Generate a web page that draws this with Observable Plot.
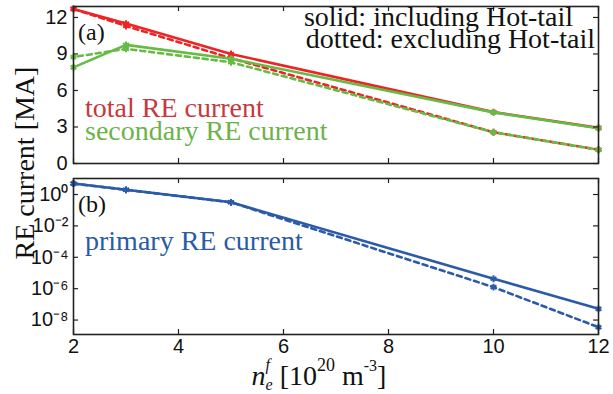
<!DOCTYPE html>
<html><head><meta charset="utf-8">
<script src="https://cdn.jsdelivr.net/npm/d3@7"></script>
<script src="https://cdn.jsdelivr.net/npm/@observablehq/plot@0.6"></script>
<style>
body{margin:0;background:#fff;}
#wrap{position:relative;width:613px;height:394px;font-family:"Liberation Serif",serif;}
#wrap svg{position:absolute;left:0;overflow:visible;}
.lab{position:absolute;color:#111;white-space:nowrap;line-height:1;font-size:28px;}
</style></head><body>
<div id="wrap"></div>
<script>
const density = [2, 3, 5, 10, 12];
const totalWith = [12.7, 11.5, 9.0, 4.22, 2.93];
const secondaryWith = [7.9, 9.75, 8.6, 4.2, 2.9];
const totalWithout = [12.7, 11.3, 8.65, 2.57, 1.13];
const secondaryWithout = [8.75, 9.42, 8.32, 2.57, 1.13];
const primaryWith = [5.0, 2.0, 0.32, 4.3e-6, 5.2e-8];
const primaryWithout = [5.0, 2.0, 0.32, 1.25e-6, 3.5e-9];
const xTicks = [2, 4, 6, 8, 10, 12];
const yTicksA = [0, 3, 6, 9, 12];
const yTicksB = [1, 1e-2, 1e-4, 1e-6, 1e-8];
const expLabels = {"0":"⁰","-2":"⁻²","-4":"⁻⁴","-6":"⁻⁶","-8":"⁻⁸"};

const RED = "#ee2424", GREEN = "#66bb44", BLUE = "#2a5aa8";
const SANS = "Liberation Sans";
const rows = (ys) => density.map((x, i) => ({x, y: ys[i]}));

function inwardTicks(innerW, innerH, xt, yt) {
  return [
    Plot.tickX(xt, {x: d => d, insetTop: innerH - 5, stroke: "#222", strokeWidth: 1.2}),
    Plot.tickX(xt, {x: d => d, insetBottom: innerH - 5, stroke: "#222", strokeWidth: 1.2}),
    Plot.tickY(yt, {y: d => d, insetRight: innerW - 5, stroke: "#222", strokeWidth: 1.2}),
    Plot.tickY(yt, {y: d => d, insetLeft: innerW - 5, stroke: "#222", strokeWidth: 1.2})
  ];
}

function series(ys, color, dashed, offset) {
  return [
    Plot.line(rows(ys), {x: "x", y: "y", stroke: color, strokeWidth: 2.6,
      strokeDasharray: dashed ? "5,4" : null, strokeDashoffset: offset || 0}),
    Plot.dot(rows(ys), {x: "x", y: "y", symbol: "asterisk", r: 3.2, stroke: color, strokeWidth: 2})
  ];
}

const W = 613;
const topP = Plot.plot({
  width: W, height: 170, marginLeft: 73, marginRight: 15, marginTop: 6, marginBottom: 7,
  style: {fontFamily: SANS},
  x: {domain: [2, 12], axis: null},
  y: {domain: [0, 12.9], axis: null},
  marks: [
    ...series(totalWithout, RED, true, 0),
    ...series(secondaryWithout, GREEN, true, 4.5),
    ...series(totalWith, RED, false),
    ...series(secondaryWith, GREEN, false),
    ...inwardTicks(525, 157, xTicks, yTicksA),
    Plot.axisY(yTicksA, {label: null, tickSize: 0, tickPadding: 6, fontSize: 20, fontFamily: SANS, fill: "#111"}),
    Plot.frame({stroke: "#222", strokeWidth: 1.6})
  ]
});
topP.style.top = "0px";

const botP = Plot.plot({
  width: W, height: 224, marginLeft: 73, marginRight: 15, marginTop: 8, marginBottom: 60,
  style: {fontFamily: SANS},
  x: {domain: [2, 12], axis: null},
  y: {type: "log", domain: [1.2e-9, 10.5], axis: null},
  marks: [
    ...series(primaryWithout, BLUE, true, 0),
    ...series(primaryWith, BLUE, false),
    ...inwardTicks(525, 156, xTicks, yTicksB),
    Plot.axisY(yTicksB, {label: null, tickSize: 0, tickPadding: 5, fontSize: 20, fontFamily: SANS, fill: "#111",
      tickFormat: d => "10" + expLabels[String(Math.round(Math.log10(d)))]}),
    Plot.axisX(xTicks, {label: null, tickSize: 0, tickPadding: 4, fontSize: 20, fontFamily: SANS, fill: "#111"}),
    Plot.frame({stroke: "#222", strokeWidth: 1.6})
  ]
});
botP.style.top = "170px";

const wrap = document.getElementById("wrap");
wrap.appendChild(topP);
wrap.appendChild(botP);

function label(html, css) {
  const d = document.createElement("div");
  d.className = "lab";
  d.style.cssText = css;
  d.innerHTML = html;
  wrap.appendChild(d);
}
label("(a)", "left:78px;top:20px;font-size:24px;");
label("solid: including Hot-tail", "right:40px;top:3px;");
label("dotted: excluding Hot-tail", "right:18px;top:25px;");
label("total RE current", "left:85px;top:93.5px;color:#c8383c;");
label("secondary RE current", "left:85px;top:116.5px;color:#6cb24a;");
label("(b)", "left:78px;top:192px;font-size:24px;");
label("primary RE current", "left:85px;top:226.5px;color:" + BLUE + ";");
label("RE current [MA]", "left:25px;top:163px;transform:translate(-50%,-50%) rotate(-90deg);");
label('<i>n</i><span style="display:inline-block;width:0"><sup style="font-size:16px;position:relative;top:-5px"><i>f</i></sup></span><sub style="font-size:16px;position:relative;top:-2px"><i>e</i></sub> [10<sup style="font-size:18px;position:relative;top:-4px">20</sup> m<sup style="font-size:16px;position:relative;top:-4px">-3</sup>]',
  "left:319px;top:360px;transform:translateX(-50%);");
</script>
</body></html>
